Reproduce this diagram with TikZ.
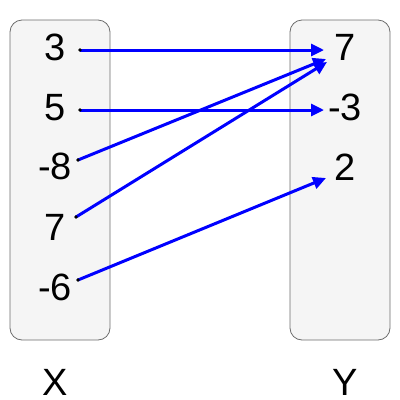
\documentclass[tikz,border=0pt]{standalone}
\usepackage{fontspec}
\setmainfont{Liberation Sans}
\usetikzlibrary{arrows.meta}
\begin{document}
\begin{tikzpicture}[x=1pt,y=-1pt,
  setbox/.style={draw=gray!85!black,fill=black!4,line width=0.8pt,rounded corners=12pt},
  num/.style={font=\fontsize{38}{40}\selectfont,anchor=base,inner sep=0pt},
  mapline/.style={draw=blue,line width=3pt,-{Triangle[length=13pt,width=12pt]}},
  dotc/.style={fill=black}]
\useasboundingbox (0,0) rectangle (400,400);
\draw[setbox] (10,20) rectangle (110,340);
\draw[setbox] (290,20) rectangle (390,340);
% left numbers
\node[num] (x1) at (55,60) {3};
\node[num] (x2) at (55,120) {5};
\node[num] (x3) at (55,179) {-8};
\node[num] (x4) at (55,240) {7};
\node[num] (x5) at (55,300) {-6};
% right numbers
\node[num] (y1) at (345,60) {7};
\node[num] (y2) at (345,120) {-3};
\node[num] (y3) at (345,180) {2};
% labels
\node[num] (lx) at (55,395) {X};
\node[num] (ly) at (345,395) {Y};
% start points
\coordinate (s1) at (80,50);
\coordinate (s2) at (80,110);
\coordinate (s3) at (78,160);
\coordinate (s4) at (76,217);
\coordinate (s5) at (78,280);
% end points
\coordinate (e1) at (324,50);
\coordinate (e2) at (324,110);
\coordinate (e3) at (326,59);
\coordinate (e4) at (327,62);
\coordinate (e5) at (326,178);
\draw[mapline] (s1) -- (e1);
\draw[mapline] (s2) -- (e2);
\draw[mapline] (s3) -- (e3);
\draw[mapline] (s4) -- (e4);
\draw[mapline] (s5) -- (e5);
\foreach \p in {s1,s2,s3,s4,s5} \fill[dotc] (\p) circle (1.8pt);
\end{tikzpicture}
\end{document}
